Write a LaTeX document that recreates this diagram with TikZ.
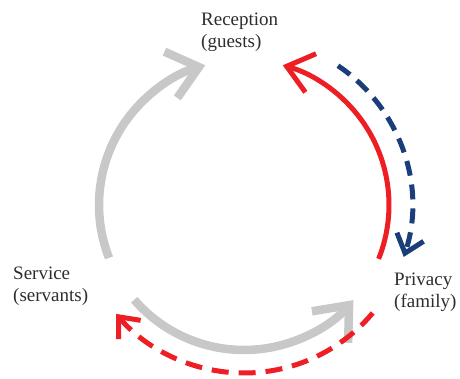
\documentclass[tikz,border=0pt]{standalone}
\usepackage{fontspec}
\setmainfont{Liberation Serif}
\usetikzlibrary{arrows.meta}
\definecolor{arcgray}{RGB}{200,200,200}
\definecolor{arcred}{RGB}{237,30,36}
\definecolor{arcblue}{RGB}{27,62,122}
\definecolor{txt}{RGB}{45,45,45}
\begin{document}
\begin{tikzpicture}[x=1pt,y=1pt,
  lbl/.style={inner sep=0pt, align=left, anchor=base west, text=txt, font=\fontsize{19}{22.5}\selectfont},
  grayarc/.style={draw=arcgray, line width=8.5pt, -{Straight Barb[length=29pt,width=48pt,line cap=butt,line join=miter]}},
  redarc/.style={draw=arcred, line width=5pt, -{Straight Barb[length=25pt,width=40pt,line cap=butt,line join=miter]}},
  bluedash/.style={draw=arcblue, line width=5pt, dash pattern=on 15pt off 9pt, -{Straight Barb[length=17pt,width=28pt,line cap=butt,line join=miter]}},
  reddash/.style={draw=arcred, line width=5pt, dash pattern=on 17pt off 10pt, -{Straight Barb[length=17pt,width=29pt,line cap=butt,line join=miter]}}]
\useasboundingbox (0,0) rectangle (460,379);
\coordinate (O) at (244,174);
\node[lbl] (rec) at (201,331) {Reception\\(guests)};
\node[lbl] (ser) at (13,77) {Service\\(servants)};
\node[lbl] (pri) at (394,71) {Privacy\\(family)};
% solid arcs
\draw[grayarc] (O) ++(201.4:145) arc[start angle=201.4, end angle=105.5, radius=145];
\draw[grayarc] (O) ++(220.8:145) arc[start angle=220.8, end angle=319, radius=145];
\draw[redarc] (O) ++(-21.8:145) arc[start angle=-21.8, end angle=74.5, radius=145];
% dashed arcs
\draw[bluedash] (O) ++(56:168) arc[start angle=56, end angle=-18, radius=168];
\draw[reddash] (O) ++(-40:168) arc[start angle=-40, end angle=-139.6, radius=168];
\end{tikzpicture}
\end{document}
